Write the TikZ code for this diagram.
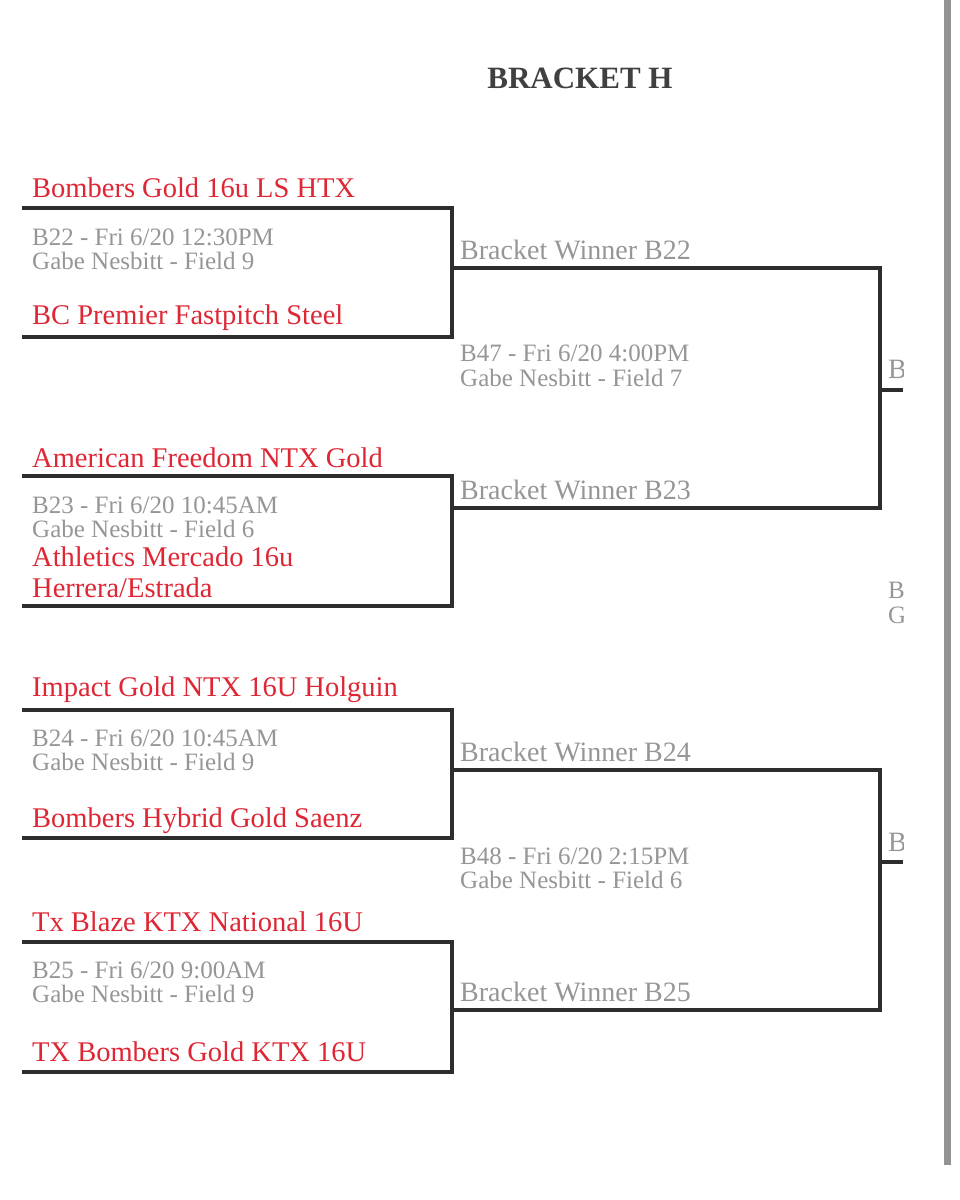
\documentclass[tikz,border=0pt]{standalone}
\usepackage{fontspec}
\setmainfont{Liberation Serif}
\definecolor{teamred}{RGB}{222,38,52}
\definecolor{infogray}{RGB}{150,150,150}
\definecolor{linec}{RGB}{45,45,45}
\begin{document}
\begin{tikzpicture}[x=1pt,y=-1pt,
  team/.style={anchor=west,inner sep=0pt,text=teamred,font=\fontsize{28.5}{28.5}\selectfont},
  info/.style={anchor=west,inner sep=0pt,text=infogray,font=\fontsize{25}{25}\selectfont},
  win/.style={anchor=west,inner sep=0pt,text=infogray,font=\fontsize{28}{28}\selectfont},
  bl/.style={draw=linec,line width=3.4pt}]
\useasboundingbox (0,0) rectangle (960,1200);
\fill[white] (0,0) rectangle (960,1200);
\fill[gray!85] (944,0) rectangle (951,1165);
\node[inner sep=0pt,text=black!75,font=\fontsize{31}{31}\selectfont\bfseries] (title) at (580,78) {BRACKET H};
\foreach \n/\t/\b in {a/208/337,b/476/606,c/710/838,d/942/1072}{
  \coordinate (\n tl) at (22,\t); \coordinate (\n tr) at (452,\t);
  \coordinate (\n bl) at (22,\b); \coordinate (\n br) at (452,\b);
}
\draw[bl] (atl) -- (atr) -- (abr) -- (abl);
\draw[bl] (btl) -- (btr) -- (bbr) -- (bbl);
\draw[bl] (ctl) -- (ctr) -- (cbr) -- (cbl);
\draw[bl] (dtl) -- (dtr) -- (dbr) -- (dbl);
\coordinate (w22) at (452,268); \coordinate (w23) at (452,508);
\coordinate (w24) at (452,770); \coordinate (w25) at (452,1010);
\coordinate (s1) at (880,390); \coordinate (s1e) at (903,390);
\coordinate (s2) at (880,862); \coordinate (s2e) at (903,862);
\draw[bl] (w22) -- (880,268) -- (880,508) -- (w23);
\draw[bl] (w24) -- (880,770) -- (880,1010) -- (w25);
\draw[bl] (s1) -- (s1e);
\draw[bl] (s2) -- (s2e);
\node[team] (t1) at (32,188) {Bombers Gold 16u LS HTX};
\node[info] (i1) at (32,237) {B22 - Fri 6/20 12:30PM};
\node[info] (i1b) at (32,261) {Gabe Nesbitt - Field 9};
\node[team] (t2) at (32,318) {BC Premier Fastpitch Steel};
\node[team] (t3) at (32,458) {American Freedom NTX Gold};
\node[info] (i2) at (32,505) {B23 - Fri 6/20 10:45AM};
\node[info] (i2b) at (32,529) {Gabe Nesbitt - Field 6};
\node[team] (t4) at (32,557) {Athletics Mercado 16u};
\node[team] (t4b) at (32,588) {Herrera/Estrada};
\node[team] (t5) at (32,690) {Impact Gold NTX 16U Holguin};
\node[info] (i3) at (32,738) {B24 - Fri 6/20 10:45AM};
\node[info] (i3b) at (32,762) {Gabe Nesbitt - Field 9};
\node[team] (t6) at (32,821) {Bombers Hybrid Gold Saenz};
\node[team] (t7) at (32,922) {Tx Blaze KTX National 16U};
\node[info] (i4) at (32,970) {B25 - Fri 6/20 9:00AM};
\node[info] (i4b) at (32,994) {Gabe Nesbitt - Field 9};
\node[team] (t8) at (32,1052) {TX Bombers Gold KTX 16U};
\node[win] (bw22) at (460,250) {Bracket Winner B22};
\node[win] (bw23) at (460,490) {Bracket Winner B23};
\node[win] (bw24) at (460,752) {Bracket Winner B24};
\node[win] (bw25) at (460,992) {Bracket Winner B25};
\node[info] (g47) at (460,353) {B47 - Fri 6/20 4:00PM};
\node[info] (g47b) at (460,378) {Gabe Nesbitt - Field 7};
\node[info] (g48) at (460,856) {B48 - Fri 6/20 2:15PM};
\node[info] (g48b) at (460,880) {Gabe Nesbitt - Field 6};
\begin{scope}
\clip (880,0) rectangle (903,1200);
\node[win] (cb1) at (888,369) {B};
\node[win] (cb2) at (888,842) {B};
\node[info] (cc1) at (888,590) {B};
\node[info] (cc2) at (888,615) {G};
\end{scope}
\end{tikzpicture}
\end{document}
